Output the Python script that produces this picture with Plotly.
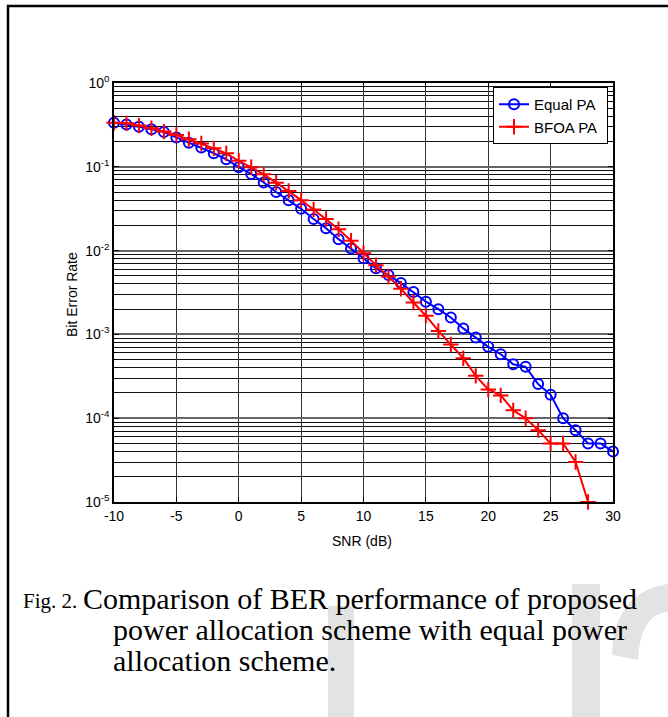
import plotly.graph_objects as go

# ---------------- data ----------------
snr_equal = list(range(-10, 31))
ber_equal = [0.336, 0.32, 0.30, 0.28, 0.26, 0.224, 0.194, 0.17, 0.145, 0.123,
             0.099, 0.082, 0.065, 0.050, 0.040, 0.0315, 0.0238, 0.0185, 0.0137, 0.0106,
             0.0081, 0.00615, 0.0051, 0.0041, 0.0032, 0.00246, 0.0020, 0.00159, 0.00118, 0.00092,
             0.00071, 0.00058, 0.00044, 0.00041, 0.000256, 0.00019, 0.0001, 0.000072, 0.00005, 0.00005, 0.00004]

snr_bfoa = list(range(-10, 29))
ber_bfoa = [0.336, 0.33, 0.31, 0.288, 0.263, 0.24, 0.213, 0.19, 0.166, 0.145,
            0.118, 0.0986, 0.0813, 0.0646, 0.0514, 0.040, 0.031, 0.0238, 0.018, 0.0131,
            0.0093, 0.0067, 0.0049, 0.0035, 0.0024, 0.00167, 0.0011, 0.00076, 0.00052, 0.00032,
            0.00022, 0.000187, 0.000124, 0.0001, 0.000072, 0.00005, 0.00005, 0.00003, 0.00001]

x_ticks = [-10, -5, 0, 5, 10, 15, 20, 25, 30]
x_labels = ["-10", "-5", "0", "5", "10", "15", "20", "25", "30"]
y_decades = [1, 0.1, 0.01, 0.001, 0.0001, 0.00001]
y_labels = ["10<sup>0</sup>", "10<sup>-1</sup>", "10<sup>-2</sup>",
            "10<sup>-3</sup>", "10<sup>-4</sup>", "10<sup>-5</sup>"]
y_minor = [k * d for d in y_decades[1:] for k in range(2, 10)]

caption_fig = "Fig. 2."
caption_lines = ["Comparison of BER performance of proposed",
                 "power allocation scheme with equal power",
                 "allocation scheme."]

# ---------------- layout helpers (pixel -> paper) ----------------
W, H = 668, 717
L, R, T, B = 114, 613, 83, 502


def X(px):
    return (px - L) / (R - L)


def Y(py):
    return (B - py) / (B - T)


fig = go.Figure()
fig.add_trace(go.Scatter(
    x=snr_equal, y=ber_equal, name="Equal PA\u00a0", mode="lines+markers",
    line=dict(color="#0000ff", width=2),
    marker=dict(symbol="circle-open", size=10, color="#0000ff", line=dict(width=2)),
    cliponaxis=False))
fig.add_trace(go.Scatter(
    x=snr_bfoa, y=ber_bfoa, name="BFOA PA\u00a0", mode="lines+markers",
    line=dict(color="#ff0000", width=2),
    marker=dict(symbol="cross-thin-open", size=11, color="#ff0000", line=dict(width=2, color="#ff0000")),
    cliponaxis=False))

sans = "Liberation Sans, Arial, sans-serif"
serif = "Liberation Serif, Times New Roman, serif"

fig.update_layout(
    width=W, height=H,
    margin=dict(l=L, r=W - R, t=T, b=H - B),
    paper_bgcolor="white", plot_bgcolor="white",
    font=dict(family=sans, size=14, color="black"),
    showlegend=True,
    legend=dict(x=X(608), y=Y(87), xanchor="right", yanchor="top",
                bgcolor="white", bordercolor="black", borderwidth=1,
                font=dict(family=sans, size=15, color="black"),
                itemwidth=30),
    xaxis=dict(range=[-10, 30], tickmode="array", tickvals=x_ticks, ticktext=x_labels,
               showgrid=True, gridcolor="#333333", gridwidth=1,
               zeroline=False, showline=True, linecolor="black", linewidth=1.5, mirror="ticks",
               ticks="inside", ticklen=5, tickcolor="black",
               tickfont=dict(family=sans, size=14)),
    yaxis=dict(type="log", range=[-5, 0], tickmode="array", tickvals=y_decades, ticktext=y_labels,
               showgrid=True, gridcolor="#666666", gridwidth=2,
               zeroline=False, showline=True, linecolor="black", linewidth=1.5, mirror="ticks",
               ticks="inside", ticklen=5, tickcolor="black",
               tickfont=dict(family=sans, size=14),
               minor=dict(tickmode="array", tickvals=y_minor, showgrid=True,
                          gridcolor="#111111", gridwidth=1, ticks="inside", ticklen=3,
                          tickcolor="black")),
)

# axis titles
fig.add_annotation(text="SNR (dB)", xref="paper", yref="paper", x=X(362), y=Y(541),
                   xanchor="center", yanchor="middle",
                   showarrow=False, font=dict(family=sans, size=14, color="black"))
fig.add_annotation(text="Bit Error Rate", xref="paper", yref="paper", x=X(72), y=Y(295),
                   xanchor="center", yanchor="middle",
                   showarrow=False, textangle=-90, font=dict(family=sans, size=14, color="black"))

# watermark (background decoration)
wm = "#e3e3e3"
fig.add_shape(type="rect", xref="paper", yref="paper", x0=X(328), x1=X(354), y0=Y(606), y1=Y(717),
              fillcolor=wm, line=dict(width=0), layer="below")
fig.add_shape(type="rect", xref="paper", yref="paper", x0=X(572), x1=X(600), y0=Y(584), y1=Y(717),
              fillcolor=wm, line=dict(width=0), layer="below")
s_path = (f"M {X(612)} {Y(655)} Q {X(614)} {Y(592)} {X(668)} {Y(584)} "
          f"L {X(668)} {Y(612)} Q {X(640)} {Y(614)} {X(638)} {Y(660)} Z")
fig.add_shape(type="path", xref="paper", yref="paper", path=s_path,
              fillcolor=wm, line=dict(width=0), layer="below")

# page border
border = f"M {X(8)} {Y(717)} L {X(8)} {Y(6)} L {X(668)} {Y(6)}"
fig.add_shape(type="path", xref="paper", yref="paper", path=border,
              line=dict(color="black", width=2.5))

# caption
fig.add_annotation(text=caption_fig, xref="paper", yref="paper", x=X(21), y=Y(601),
                   xanchor="left", yanchor="middle", showarrow=False,
                   font=dict(family=serif, size=21, color="black"))
cap_y = [598, 629, 660]
cap_x = [81, 111, 111]
for txt, cx, cy in zip(caption_lines, cap_x, cap_y):
    fig.add_annotation(text=txt, xref="paper", yref="paper", x=X(cx), y=Y(cy),
                       xanchor="left", yanchor="middle", showarrow=False,
                       font=dict(family=serif, size=30, color="black"))

fig.write_html("out.html", config={"displayModeBar": False},
               post_script="document.body.style.margin='0';document.body.style.overflow='hidden';")
